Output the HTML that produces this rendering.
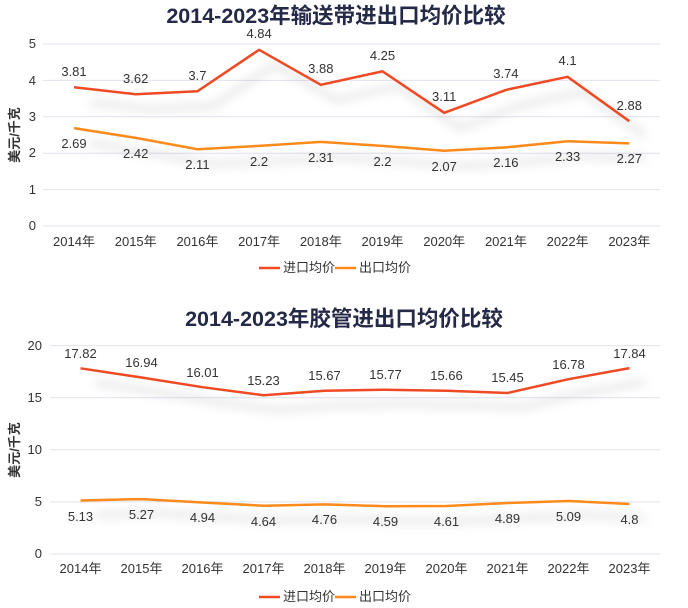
<!DOCTYPE html><html><head><meta charset="utf-8"><style>body{margin:0;background:#fff}svg{display:block;font-family:"Liberation Sans","Noto Sans CJK SC",sans-serif}</style></head><body>
<svg width="688" height="608" viewBox="0 0 688 608">
<defs><filter id="b" x="-10%" y="-50%" width="120%" height="200%"><feGaussianBlur stdDeviation="5"/></filter></defs>
<text x="336" y="23" text-anchor="middle" font-size="21.5" font-weight="bold" fill="#232946">2014-2023年输送带进出口均价比较</text>
<g stroke="#e2e2ee" stroke-width="1"><line x1="43" x2="660" y1="44" y2="44"/><line x1="43" x2="660" y1="80.4" y2="80.4"/><line x1="43" x2="660" y1="116.8" y2="116.8"/><line x1="43" x2="660" y1="153.2" y2="153.2"/><line x1="43" x2="660" y1="189.6" y2="189.6"/><line x1="43" x2="660" y1="226" y2="226"/></g>
<g font-size="13" fill="#333" text-anchor="end"><text x="36" y="48">5</text><text x="36" y="85">4</text><text x="36" y="121">3</text><text x="36" y="157">2</text><text x="36" y="194">1</text><text x="36" y="230">0</text></g>
<text transform="translate(19,135) rotate(-90)" text-anchor="middle" font-size="13" font-weight="600" fill="#333">美元/千克</text>
<g font-size="13" fill="#333" text-anchor="middle"><text x="74" y="246">2014年</text><text x="135.7" y="246">2015年</text><text x="197.4" y="246">2016年</text><text x="259.1" y="246">2017年</text><text x="320.8" y="246">2018年</text><text x="382.5" y="246">2019年</text><text x="444.2" y="246">2020年</text><text x="505.9" y="246">2021年</text><text x="567.6" y="246">2022年</text><text x="629.3" y="246">2023年</text></g>
<g fill="none" stroke="#000" stroke-opacity="0.12" stroke-width="5" filter="url(#b)"><polyline points="90,102 151,109 213,106 275,65 337,100 398,86 460,128 522,105 583,92 645,136"/><polyline points="90,143 151,153 213,164 275,161 337,157 398,161 460,166 522,162 583,156 645,158"/></g>
<polyline fill="none" stroke="#ef4a24" stroke-width="2.5" points="74,87.3 135.7,94.2 197.4,91.3 259.1,49.8 320.8,84.8 382.5,71.3 444.2,112.8 505.9,89.9 567.6,76.8 629.3,121.2"/>
<polyline fill="none" stroke="#ff8a1c" stroke-width="2.5" points="74,128.1 135.7,137.9 197.4,149.2 259.1,145.9 320.8,141.9 382.5,145.9 444.2,150.7 505.9,147.4 567.6,141.2 629.3,143.4"/>
<g font-size="13" fill="#333" text-anchor="middle"><text x="74" y="76">3.81</text><text x="135.7" y="83">3.62</text><text x="197.4" y="80">3.7</text><text x="259.1" y="38">4.84</text><text x="320.8" y="73">3.88</text><text x="382.5" y="60">4.25</text><text x="444.2" y="101">3.11</text><text x="505.9" y="78">3.74</text><text x="567.6" y="65">4.1</text><text x="629.3" y="110">2.88</text>
<text x="74" y="148">2.69</text><text x="135.7" y="158">2.42</text><text x="197.4" y="169">2.11</text><text x="259.1" y="166">2.2</text><text x="320.8" y="162">2.31</text><text x="382.5" y="166">2.2</text><text x="444.2" y="171">2.07</text><text x="505.9" y="167">2.16</text><text x="567.6" y="161">2.33</text><text x="629.3" y="163">2.27</text></g>
<line x1="259" x2="280" y1="268" y2="268" stroke="#ef4a24" stroke-width="2.5"/><text x="283" y="272" font-size="13" fill="#333">进口均价</text>
<line x1="335" x2="356" y1="268" y2="268" stroke="#ff8a1c" stroke-width="2.5"/><text x="359" y="272" font-size="13" fill="#333">出口均价</text>

<text x="344" y="326" text-anchor="middle" font-size="21.5" font-weight="bold" fill="#232946">2014-2023年胶管进出口均价比较</text>
<g stroke="#e2e2ee" stroke-width="1"><line x1="50" x2="660" y1="345.6" y2="345.6"/><line x1="50" x2="660" y1="397.7" y2="397.7"/><line x1="50" x2="660" y1="449.8" y2="449.8"/><line x1="50" x2="660" y1="501.9" y2="501.9"/><line x1="50" x2="660" y1="554" y2="554"/></g>
<g font-size="13" fill="#333" text-anchor="end"><text x="42" y="350">20</text><text x="42" y="402">15</text><text x="42" y="454">10</text><text x="42" y="506">5</text><text x="42" y="558">0</text></g>
<text transform="translate(19,450) rotate(-90)" text-anchor="middle" font-size="13" font-weight="600" fill="#333">美元/千克</text>
<g font-size="13" fill="#333" text-anchor="middle"><text x="80.5" y="573">2014年</text><text x="141.5" y="573">2015年</text><text x="202.5" y="573">2016年</text><text x="263.5" y="573">2017年</text><text x="324.5" y="573">2018年</text><text x="385.5" y="573">2019年</text><text x="446.5" y="573">2020年</text><text x="507.5" y="573">2021年</text><text x="568.5" y="573">2022年</text><text x="629.5" y="573">2023年</text></g>
<g fill="none" stroke="#000" stroke-opacity="0.12" stroke-width="5" filter="url(#b)"><polyline points="96,383 157,392 218,402 279,410 340,405 401,404 462,405 523,407 584,393 645,382"/><polyline points="96,515 157,513 218,517 279,520 340,519 401,521 462,521 523,518 584,515 645,518"/></g>
<polyline fill="none" stroke="#ef4a24" stroke-width="2.5" points="80.5,368.3 141.5,377.5 202.5,387.2 263.5,395.3 324.5,390.7 385.5,389.7 446.5,390.8 507.5,393 568.5,379.2 629.5,368.1"/>
<polyline fill="none" stroke="#ff8a1c" stroke-width="2.5" points="80.5,500.5 141.5,499.1 202.5,502.5 263.5,505.7 324.5,504.4 385.5,506.2 446.5,506 507.5,503 568.5,501 629.5,504"/>
<g font-size="13" fill="#333" text-anchor="middle"><text x="80.5" y="358">17.82</text><text x="141.5" y="367">16.94</text><text x="202.5" y="377">16.01</text><text x="263.5" y="385">15.23</text><text x="324.5" y="380">15.67</text><text x="385.5" y="379">15.77</text><text x="446.5" y="380">15.66</text><text x="507.5" y="382">15.45</text><text x="568.5" y="369">16.78</text><text x="629.5" y="358">17.84</text>
<text x="80.5" y="521">5.13</text><text x="141.5" y="519">5.27</text><text x="202.5" y="522">4.94</text><text x="263.5" y="526">4.64</text><text x="324.5" y="524">4.76</text><text x="385.5" y="526">4.59</text><text x="446.5" y="526">4.61</text><text x="507.5" y="523">4.89</text><text x="568.5" y="521">5.09</text><text x="629.5" y="524">4.8</text></g>
<line x1="259" x2="280" y1="597" y2="597" stroke="#ef4a24" stroke-width="2.5"/><text x="283" y="601" font-size="13" fill="#333">进口均价</text>
<line x1="335" x2="356" y1="597" y2="597" stroke="#ff8a1c" stroke-width="2.5"/><text x="359" y="601" font-size="13" fill="#333">出口均价</text>
</svg></body></html>
